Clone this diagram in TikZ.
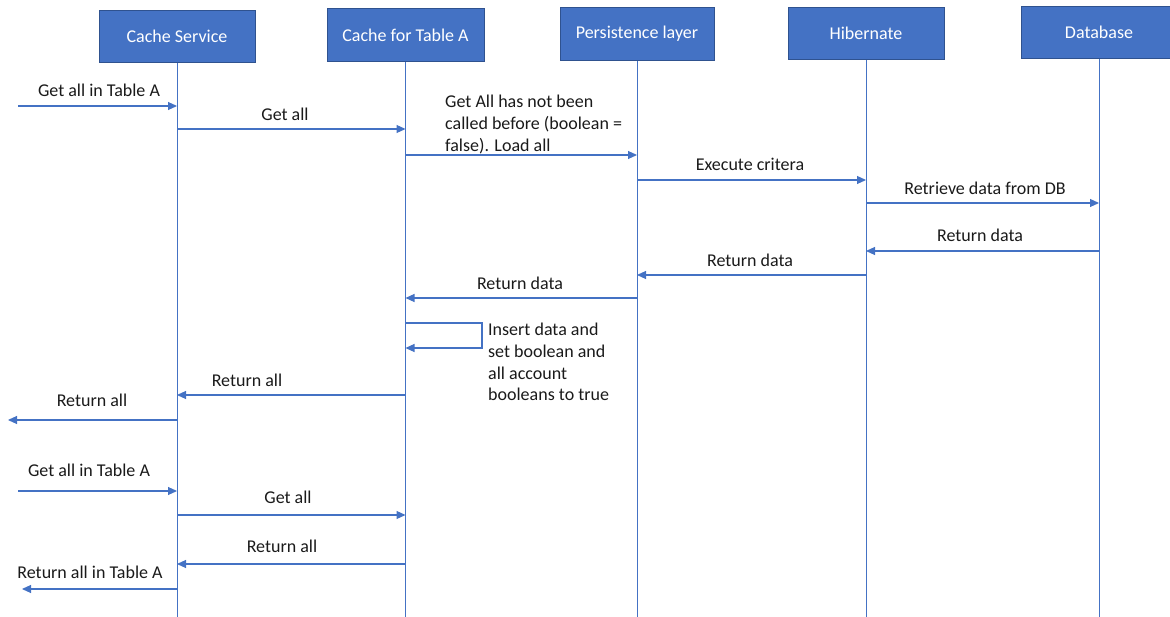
\documentclass[tikz,border=0pt]{standalone}
\usepackage{fontspec}
\setmainfont{Carlito}
\usetikzlibrary{arrows.meta}
\definecolor{lane}{HTML}{4472C4}
\definecolor{laneedge}{HTML}{2F528F}
\definecolor{ink}{HTML}{1A1A1A}
\tikzset{
  actor/.style={draw=laneedge, line width=1pt, fill=lane, text=white,
    minimum width=156pt, minimum height=52pt, inner sep=0pt, anchor=north,
    font=\fontsize{18}{21}\selectfont},
  lifeline/.style={draw=lane, line width=1pt},
  msg/.style={draw=lane, line width=1.1pt, -{Triangle[length=9pt,width=8pt]}},
  lbl/.style={font=\fontsize{18}{21}\selectfont, text=ink, anchor=base, inner sep=0pt},
  note/.style={lbl, anchor=base west}
}
\begin{document}
\begin{tikzpicture}[x=1pt, y=-1pt]
\useasboundingbox (0,0) rectangle (1170,617);
\clip (0,0) rectangle (1170,617);

% participants
\node[actor] (cs) at (177,10) {Cache Service};
\node[actor, minimum width=157pt, minimum height=53pt] (ct) at (405.5,8) {Cache for Table A};
\node[actor, minimum width=154pt, minimum height=53pt] (pl) at (637,7) {Persistence layer};
\node[actor] (hb) at (866,7) {Hibernate};
\node[actor] (db) at (1099,6) {Database};

% lifelines
\coordinate (bottom) at (0,617);
\foreach \p in {cs,ct,pl,hb,db}
  \draw[lifeline] (\p.south) -- (\p.south |- bottom);

% outer ends of the external calls
\coordinate (in1) at (18,106);
\coordinate (out1) at (8,420);
\coordinate (in2) at (18,491);
\coordinate (out2) at (22,589);

% first request
\draw[msg] (in1) -- (cs |- in1);
\node[lbl] (t1) at (99,97) {Get all in Table A};

\draw[msg] (cs |- 0,129) -- (ct |- 0,129);
\node[lbl] (t2) at (285,120.5) {Get all};

\draw[msg] (ct |- 0,155) -- (pl |- 0,155);
\node[note] (t3a) at (445,108) {Get All has not been};
\node[note] (t3b) at (445,130) {called before (boolean =};
\node[note] (t3c) at (445,151.5) {false). Load all};

\draw[msg] (pl |- 0,180) -- (hb |- 0,180);
\node[lbl] (t4) at (750,171) {Execute critera};

\draw[msg] (hb |- 0,203) -- (db |- 0,203);
\node[lbl] (t5) at (985,195) {Retrieve data from DB};

\draw[msg] (db |- 0,251) -- (hb |- 0,251);
\node[lbl] (t6) at (980,242) {Return data};

\draw[msg] (hb |- 0,275) -- (pl |- 0,275);
\node[lbl] (t7) at (750,266.5) {Return data};

\draw[msg] (pl |- 0,298) -- (ct |- 0,298);
\node[lbl] (t8) at (520,290) {Return data};

% self call on the table cache
\coordinate (loopA) at (482,323);
\coordinate (loopB) at (482,348);
\draw[msg] (ct |- loopA) -- (loopA) -- (loopB) -- (ct |- loopB);
\node[note] (t9a) at (488,336) {Insert data and};
\node[note] (t9b) at (488,358) {set boolean and};
\node[note] (t9c) at (488,379.5) {all account};
\node[note] (t9d) at (488,401) {booleans to true};

\draw[msg] (ct |- 0,395) -- (cs |- 0,395);
\node[lbl] (t10) at (247,387) {Return all};

\draw[msg] (cs |- out1) -- (out1);
\node[lbl] (t11) at (92,406.5) {Return all};

% second request, served from the cache
\draw[msg] (in2) -- (cs |- in2);
\node[lbl] (t12) at (89,476) {Get all in Table A};

\draw[msg] (cs |- 0,515) -- (ct |- 0,515);
\node[lbl] (t13) at (288,503) {Get all};

\draw[msg] (ct |- 0,564) -- (cs |- 0,564);
\node[lbl] (t14) at (282,552) {Return all};

\draw[msg] (cs |- out2) -- (out2);
\node[lbl] (t15) at (90,578) {Return all in Table A};
\end{tikzpicture}
\end{document}
